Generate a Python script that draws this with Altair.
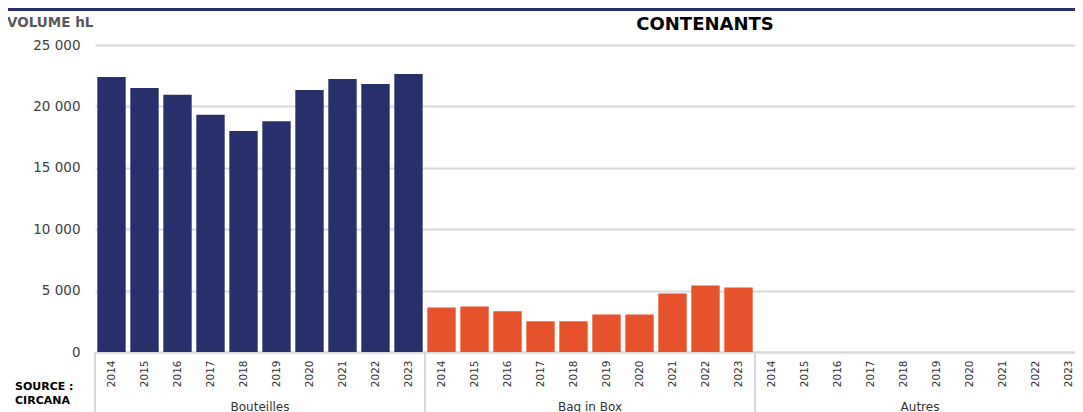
import altair as alt
import pandas as pd

# ---- data ----
years = ["2014", "2015", "2016", "2017", "2018", "2019", "2020", "2021", "2022", "2023"]
groups = ["Bouteilles", "Bag in Box", "Autres"]
bouteilles = [22400, 21500, 20950, 19330, 18000, 18800, 21340, 22230, 21820, 22640]
bag_in_box = [3630, 3710, 3310, 2500, 2500, 3060, 3060, 4770, 5420, 5260]
autres = [None, None, None, None, None, None, None, None, None, None]
y_ticks = [0, 5000, 10000, 15000, 20000, 25000]
title_text = ["CONTENANTS"]
y_title_text = ["VOLUME hL"]
source_text = ["SOURCE :", "CIRCANA"]
group_colors = ["#27306b", "#e5522c", "#9e9e9e"]

# slot index of every bar (3 groups x 10 years) on a linear x scale
rows = []
for gi, (g, vals) in enumerate(zip(groups, [bouteilles, bag_in_box, autres])):
    for yi, (yr, v) in enumerate(zip(years, vals)):
        idx = gi * len(years) + yi
        rows.append({"group": g, "year": yr, "i0": idx + 0.07, "i1": idx + 0.93,
                     "value": v, "base": 0})
df = pd.DataFrame(rows)
n_slots = len(groups) * len(years)

W, H = 980, 307
STEP = 33.0  # px per slot
FONT = "DejaVu Sans"
GRID = "#d9d9d9"

xscale = alt.Scale(domain=[0, W / STEP], nice=False, zero=False, padding=0)
yscale = alt.Scale(domain=[0, 25000], nice=False, padding=0)
label_values = [i + 0.5 for i in range(n_slots)]
years_js = "[" + ",".join(f"'{y}'" for y in years) + "]"

xaxis = alt.Axis(title=None, values=label_values,
                 labelExpr=f"{years_js}[floor(datum.value) % {len(years)}]",
                 labelAngle=-90, ticks=False, domainColor=GRID,
                 domainWidth=2, labelFont=FONT, labelFontSize=10.5,
                 labelColor="#333333", labelPadding=8, grid=False,
                 labelOverlap=False, labelFlush=False, labelBound=False)

bars = alt.Chart(df).mark_bar().encode(
    x=alt.X("i0:Q", scale=xscale, axis=xaxis),
    x2="i1:Q",
    y=alt.Y("value:Q", scale=yscale,
            axis=alt.Axis(title=None, values=y_ticks,
                          labelExpr="replace(format(datum.value, ','), ',', ' ')",
                          domain=False, ticks=False, grid=True, gridColor=GRID,
                          gridWidth=2, labelFont=FONT, labelFontSize=13.5,
                          labelColor="#404040", labelPadding=15)),
    y2="base:Q",
    color=alt.Color("group:N", scale=alt.Scale(domain=groups, range=group_colors),
                    legend=None),
)

sep_df = pd.DataFrame({"pos": [gi * len(years) for gi in range(len(groups))]})
seps = alt.Chart(sep_df).mark_rule(color=GRID, strokeWidth=2).encode(
    x=alt.X("pos:Q", scale=xscale, axis=xaxis),
    y=alt.value(H),
    y2=alt.value(H + 62),
)

glab_df = pd.DataFrame({"pos": [gi * len(years) + len(years) / 2 for gi in range(len(groups))],
                        "group": groups})
glabels = alt.Chart(glab_df).mark_text(
    font=FONT, fontSize=12, color="#333333", align="center", baseline="alphabetic"
).encode(
    x=alt.X("pos:Q", scale=xscale, axis=xaxis),
    y=alt.value(H + 58.5),
    text="group:N",
)

title = alt.Chart(pd.DataFrame({"t": title_text})).mark_text(
    font=FONT, fontSize=18, fontWeight="bold", color="#000000",
    align="center", baseline="alphabetic"
).encode(x=alt.value(610), y=alt.value(-15), text="t:N")

ytitle = alt.Chart(pd.DataFrame({"t": y_title_text})).mark_text(
    font=FONT, fontSize=13.5, fontWeight="bold", color="#595959",
    align="left", baseline="alphabetic"
).encode(x=alt.value(-88), y=alt.value(-18), text="t:N")

src_df = pd.DataFrame({"t": source_text, "yy": [345, 359]})
source = alt.Chart(src_df).mark_text(
    font=FONT, fontSize=11, fontWeight="bold", color="#000000",
    align="left", baseline="alphabetic"
).encode(x=alt.value(-80), y=alt.Y("yy:Q", scale=None), text="t:N")

topbar = alt.Chart(pd.DataFrame({"a": [1]})).mark_rect(color="#27306b").encode(
    x=alt.value(-87), x2=alt.value(W), y=alt.value(-37), y2=alt.value(-34)
)

chart = alt.layer(bars, seps, glabels, title, ytitle, source, topbar).properties(
    width=W, height=H,
    autosize=alt.AutoSizeParams(type="none"),
    padding={"left": 87, "top": 37, "right": 0, "bottom": 60},
    background="white",
).configure_view(stroke=None)

chart.save("out.html", embed_options={"renderer": "svg", "actions": False})
